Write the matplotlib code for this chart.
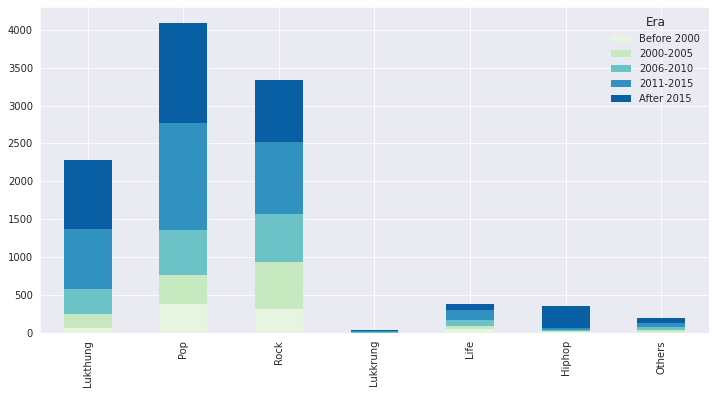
import matplotlib
import matplotlib.pyplot as plt
import pandas as pd
import seaborn as sns

matplotlib.use('Agg')

genres = ['Lukthung', 'Pop', 'Rock', 'Lukkrung', 'Life', 'Hiphop', 'Others']
eras = ['Before 2000', '2000-2005', '2006-2010', '2011-2015', 'After 2015']

before_2000 = [60, 380, 315, 2, 50, 10, 15]
y2000_2005 = [190, 380, 620, 3, 40, 16, 25]
y2006_2010 = [330, 605, 630, 5, 80, 17, 40]
y2011_2015 = [790, 1410, 960, 10, 130, 19, 55]
after_2015 = [910, 1315, 815, 18, 80, 293, 65]

colors = ['#e5f5e0', '#c7e9c0', '#6bc3c8', '#3192c2', '#085fa3']

sns.set_style('darkgrid')
plt.rcParams['font.family'] = ['DejaVu Sans']

df = pd.DataFrame({
    eras[0]: before_2000,
    eras[1]: y2000_2005,
    eras[2]: y2006_2010,
    eras[3]: y2011_2015,
    eras[4]: after_2015,
}, index=genres)

fig = plt.figure(figsize=(716 / 72, 394 / 72), dpi=72)
ax = fig.add_axes([40 / 716, 1 - 333 / 394, 669 / 716, 326 / 394])
df.plot(kind='bar', stacked=True, color=colors, ax=ax, width=0.5, linewidth=0)
ax.set_ylim(0, 4300)
ax.set_yticks(range(0, 4001, 500))
ax.tick_params(axis='both', labelsize=10, colors='#262626')
leg = ax.legend(title='Era', loc='upper right', frameon=False, fontsize=10,
                title_fontsize=12)
fig.savefig('out.png', dpi=72)
plt.close(fig)
